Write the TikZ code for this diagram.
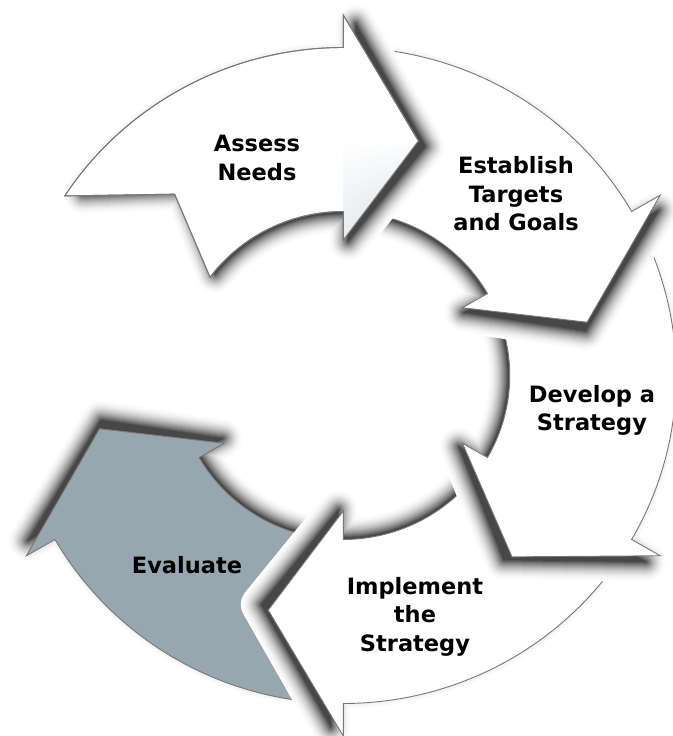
\documentclass[tikz,border=0pt]{standalone}
\usepackage{fontspec}
\setmainfont{DejaVu Sans}
\usetikzlibrary{shadings}
\definecolor{evalgray}{RGB}{152,166,176}
\definecolor{edgegray}{RGB}{120,120,120}
\definecolor{headblue}{RGB}{200,210,218}
\definecolor{headlight}{RGB}{232,236,239}
\tikzset{
  lbl/.style={font=\fontsize{22.5pt}{28.5pt}\selectfont\bfseries, align=center, inner sep=0pt, text=black},
  shadowring/.style={draw=black!#1, line join=round},
  arrowbody/.style={fill=#1, draw=edgegray, line width=0.9pt, line join=miter}
}
% #1 head angle, #2 outer r, #3 inner r, #4 head outer r, #5 head inner r, #6 mid r, #7 style
\newcommand\cyclearrowR[7]{%
  \path[#7] ({#1+56.8}:#2) arc[start angle={#1+56.8}, end angle={#1}, radius=#2]
    -- ({#1}:#4) -- ({#1-17.5}:#6) -- ({#1}:#5) -- ({#1}:#3)
    arc[start angle={#1}, end angle={#1+53.2}, radius=#3]
    -- ({#1+42.5}:#6) -- cycle;}
\newcommand\cyclearrow[2]{\cyclearrowR{#1}{328pt}{164pt}{360.5pt}{135.5pt}{246pt}{#2}}
\newcommand\cycleshadow[2]{\cyclearrowR{#1}{314pt}{162pt}{352pt}{134pt}{243pt}{#2}}
\begin{document}
\begin{tikzpicture}
\useasboundingbox (0,0) rectangle (672pt,736pt);
\fill[white] (0,0) rectangle (672pt,736pt);
\begin{scope}[shift={(343.3pt,360.5pt)}, xscale=1.015]
  \foreach \a/\col in {-150/evalgray, -90/white, -30/white, 30/white, 90/white} {
    \begin{scope}[blend group=multiply]
      \begin{scope}[blend mode=normal, rotate=-2]
        \foreach \d in {20,19,...,1} {
          \pgfmathsetmacro\shk{72*(1-\d/21)^2}
          \pgfmathsetmacro\shw{2*\d}
          \cycleshadow{\a}{shadowring=\shk, line width=\shw pt}
        }
        \cycleshadow{\a}{fill=black!72}
      \end{scope}
    \end{scope}
    \cyclearrow{\a}{arrowbody=\col}
  }
  % soft tint on the head of the first arrow
  \begin{scope}
    \clip (90:360.5pt) -- (72.5:246pt) -- (90:135.5pt) -- cycle;
    \shade[upper left=white, upper right=white, lower left=headlight, lower right=headblue]
      (-5pt,128pt) rectangle (82pt,236pt);
  \end{scope}
  \cyclearrow{90}{draw=edgegray, line width=0.9pt}
\end{scope}
\node[lbl] (assess) at (257pt,578pt) {Assess\\Needs};
\node[lbl] (establish) at (516pt,542pt) {Establish\\Targets\\and Goals};
\node[lbl] (develop) at (592pt,325.5pt) {Develop a\\Strategy};
\node[lbl] (implement) at (415pt,119.5pt) {Implement\\the\\Strategy};
\node[lbl] (evaluate) at (187pt,170.5pt) {Evaluate};
\end{tikzpicture}
\end{document}
